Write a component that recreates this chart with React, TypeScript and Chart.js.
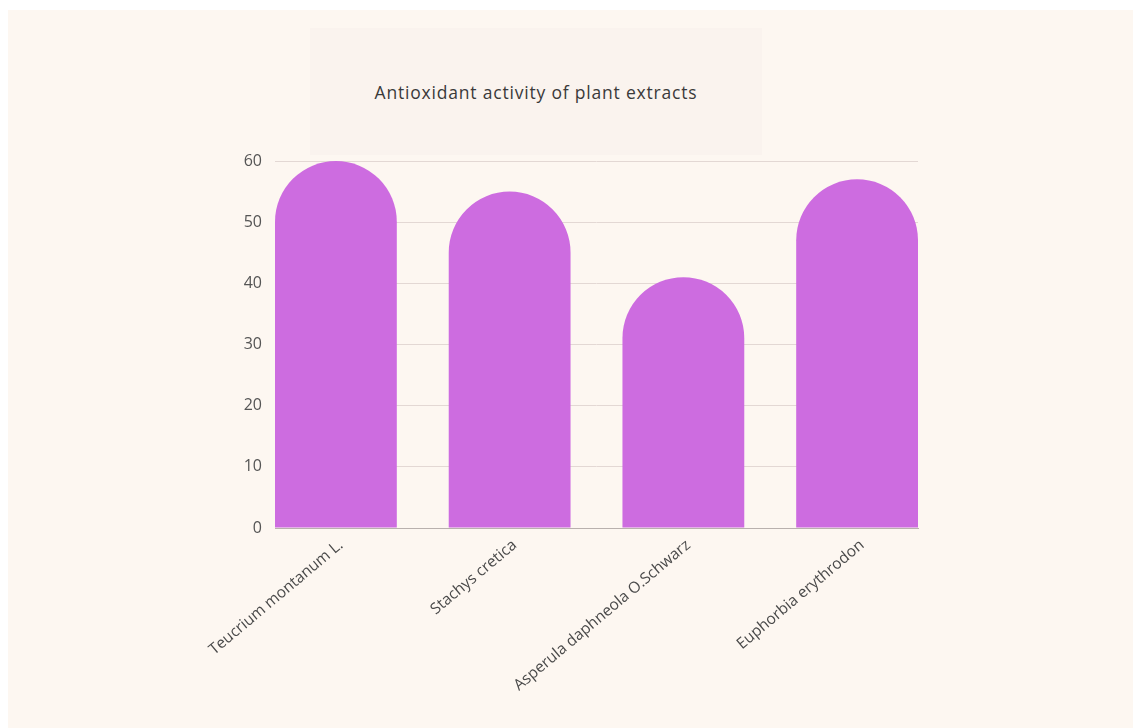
import React, { useEffect, useRef } from "react";
import { Chart, registerables } from "chart.js";

Chart.register(...registerables);

const categories = [
  "Teucrium montanum L.",
  "Stachys cretica",
  "Asperula daphneola O.Schwarz",
  "Euphorbia erythrodon",
];
const activity = [60, 55, 41, 57];
const yTicks = [0, 10, 20, 30, 40, 50, 60];
const title = "Antioxidant activity of plant extracts";

// bar-to-slot fill ratio (bar width / (bar width + gap))
const fill = 122 / 174;

export default function App() {
  const ref = useRef<HTMLCanvasElement | null>(null);

  useEffect(() => {
    if (!ref.current) return;
    const chart = new Chart(ref.current, {
      type: "bar",
      data: {
        labels: categories,
        datasets: [
          {
            label: "Antioxidant activity",
            data: activity,
            backgroundColor: "#cd6ce0",
            borderWidth: 0,
            borderRadius: { topLeft: 1000, topRight: 1000, bottomLeft: 0, bottomRight: 0 },
            borderSkipped: "start",
            barPercentage: fill,
            categoryPercentage: 1,
          },
        ],
      },
      options: {
        animation: false,
        responsive: false,
        maintainAspectRatio: false,
        layout: { padding: { top: 151, right: 215, left: 0, bottom: 0 } },
        plugins: {
          legend: { display: false },
          title: { display: false },
          tooltip: { enabled: false },
        },
        scales: {
          x: {
            offset: false,
            grid: { display: false, drawTicks: false },
            border: { display: true, color: "#b9b1ae", width: 1 },
            ticks: {
              autoSkip: false,
              minRotation: 40,
              maxRotation: 40,
              padding: 8,
              labelOffset: 5,
              color: "#4a4a4a",
              font: { family: "'Open Sans', sans-serif", size: 15.5 },
            },
            afterBuildTicks: (scale: any) => {
              const n = categories.length;
              scale._startValue = -fill / 2;
              scale._valueRange = n - 1 + fill;
            },
            afterFit: (scale: any) => {
              scale.height = 200;
            },
          },
          y: {
            min: 0,
            max: 60,
            afterBuildTicks: (scale: any) => {
              scale.ticks = yTicks.map((v) => ({ value: v }));
            },
            grid: { color: "#e3d8d4", drawTicks: false },
            border: { display: false },
            ticks: {
              padding: 13,
              color: "#555555",
              font: { family: "'Open Sans', sans-serif", size: 16 },
            },
            afterFit: (scale: any) => {
              scale.width = 267;
            },
          },
        },
      },
    });
    return () => chart.destroy();
  }, []);

  return (
    <div
      style={{
        position: "fixed",
        left: 8,
        top: 10,
        width: 1125,
        height: 718,
        background: "#fdf7f1",
      }}
    >
      <div
        style={{
          position: "absolute",
          left: 302,
          top: 18,
          width: 452,
          height: 127,
          background: "#faf3ee",
          display: "flex",
          alignItems: "center",
          justifyContent: "center",
          fontFamily: "'Open Sans', sans-serif",
          fontSize: 17.5,
          letterSpacing: 0.8,
          color: "#3a3a3a",
        }}
      >
        {title}
      </div>
      <canvas ref={ref} width={1125} height={718} style={{ display: "block" }} />
    </div>
  );
}
